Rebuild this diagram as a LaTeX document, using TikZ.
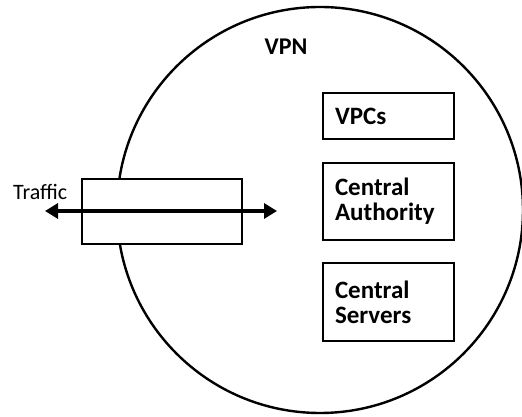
\documentclass[tikz,border=0pt]{standalone}
\usepackage{fontspec}
\setmainfont{Carlito}
\usetikzlibrary{arrows.meta}
\begin{document}
\begin{tikzpicture}[x=1pt,y=1pt,
  box/.style={draw=black,line width=2.6pt,fill=white,minimum width=131pt,minimum height=46pt,inner xsep=12pt,text width=107pt,align=left,font=\fontsize{25}{25}\selectfont\bfseries},
  tbox/.style={draw=black,line width=2.6pt,fill=white,minimum width=160pt,minimum height=65pt,inner sep=0pt},
  flow/.style={line width=3.6pt,{Triangle[length=13pt,width=15pt]}-{Triangle[length=13pt,width=15pt]}}]
\useasboundingbox (0,0) rectangle (522,417);
\fill[white] (0,0) rectangle (522,417);
\node[circle,draw=black,line width=2.4pt,minimum size=406pt,inner sep=0pt] (vpn) at (320,207) {};
\node[font=\fontsize{24}{26}\selectfont\bfseries] (vpnlabel) at (286,370) {VPN};
\node[box] (vpcs) at (388.5,301) {VPCs};
\node[box,minimum height=77pt] (ca) at (388.5,215.5) {Central\\Authority};
\node[box,minimum height=78pt] (cs) at (388.5,115) {Central\\Servers};
\node[tbox] (traffic) at (162,205.5) {};
\node[anchor=west,inner sep=0pt,font=\fontsize{22}{24}\selectfont] (tlabel) at (13,225) {Traffic};
\coordinate (tl) at (45,206);
\coordinate (tr) at (277,206);
\draw[flow] (tl) -- (tr);
\end{tikzpicture}
\end{document}
